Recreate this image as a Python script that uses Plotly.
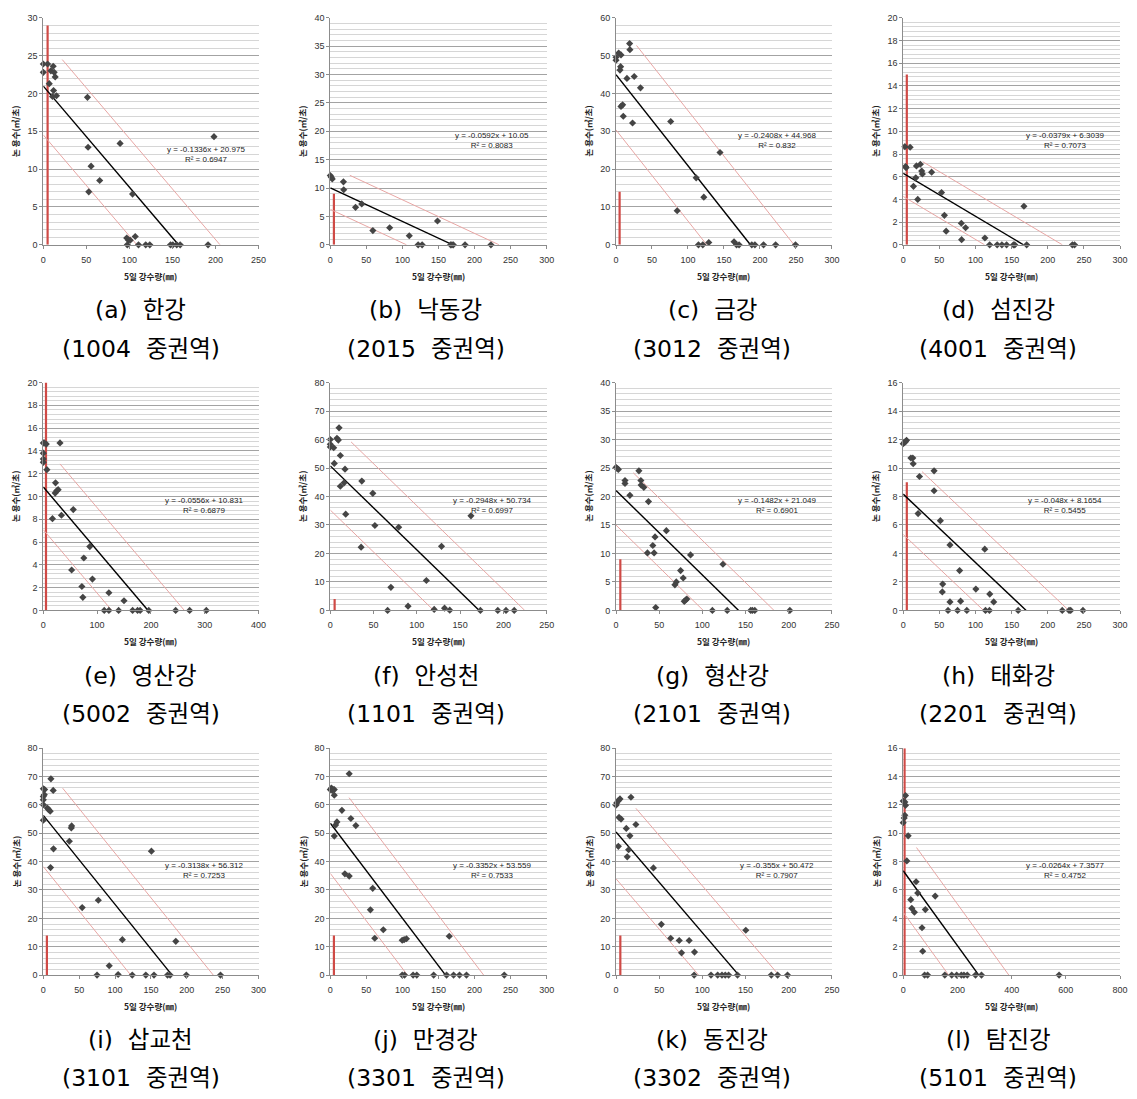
import plotly.graph_objects as go

# ---------------- data ----------------
labels = ["(a)  한강", "(b)  낙동강", "(c)  금강", "(d)  섬진강",
          "(e)  영산강", "(f)  안성천", "(g)  형산강", "(h)  태화강",
          "(i)  삽교천", "(j)  만경강", "(k)  동진강", "(l)  탐진강"]
codes = ["(1004  중권역)", "(2015  중권역)", "(3012  중권역)", "(4001  중권역)",
         "(5002  중권역)", "(1101  중권역)", "(2101  중권역)", "(2201  중권역)",
         "(3101  중권역)", "(3301  중권역)", "(3302  중권역)", "(5101  중권역)"]

a_x = [0, 0, 5, 6.9, 8.8, 11.5, 12.6, 13.8, 11.9, 10.7, 15.3, 51.3, 52, 55.5, 52.8, 65.5, 89.2, 103.7, 96.9, 98.8, 101, 106.8, 97.6, 110.6, 119, 123.7, 147.8, 150.5, 155, 159, 191.4, 198.3]
a_y = [23.9, 22.8, 23.9, 21.3, 23.0, 23.6, 22.8, 22.2, 20.4, 19.6, 19.7, 19.5, 12.9, 10.4, 7.0, 8.5, 13.4, 6.7, 0.9, 0.65, 0.6, 1.1, 0, 0, 0, 0, 0, 0, 0, 0, 0, 14.3]
b_x = [0, 1.4, 2.7, 18.2, 18.6, 35, 43.6, 59, 82.3, 109.5, 121.8, 127.3, 148.6, 166.8, 168.6, 170.5, 186.8, 222.7]
b_y = [12.2, 11.9, 11.6, 11.1, 9.7, 6.6, 7.2, 2.5, 3.0, 1.6, 0, 0, 4.2, 0, 0, 0, 0, 0]
c_x = [0, 0, 3.7, 6.9, 6.4, 5.5, 18.9, 19.3, 15.2, 25.3, 34, 6.9, 9.2, 10.1, 23, 76, 85, 111.4, 122, 114.6, 120.6, 128.9, 144.5, 164, 167.5, 171, 188.7, 193, 205, 221.8, 249.4]
c_y = [49.6, 48.8, 50.7, 50.2, 47.1, 46.2, 53.2, 51.6, 44.0, 44.5, 41.5, 36.6, 37.0, 34.0, 32.2, 32.6, 9.0, 17.7, 12.6, 0, 0, 0.6, 24.4, 0.8, 0, 0, 0, 0, 0, 0, 0]
d_x = [2.3, 9.6, 3.2, 4.0, 18.3, 23.7, 25.6, 26.5, 39.3, 17.4, 14.2, 20.1, 53, 57, 59.4, 80.4, 86.3, 80.8, 113, 119.6, 130, 136.5, 143, 152.5, 154.3, 170.8, 167, 234, 237]
d_y = [8.65, 8.6, 6.9, 6.8, 6.95, 7.1, 6.5, 6.25, 6.4, 5.9, 5.15, 4.0, 4.6, 2.6, 1.2, 1.9, 1.5, 0.45, 0.6, 0, 0, 0, 0, 0, 0, 0, 3.4, 0, 0]
e_x = [0, 2, 5.5, 0, 0, 0, 6.7, 31, 22.7, 22, 25, 27.6, 17, 33.7, 55.7, 86.4, 75.3, 52.7, 91.3, 71.7, 73.5, 121.9, 150, 113.3, 121.9, 140, 166, 175.2, 180, 196, 246, 272, 303]
e_y = [14.7, 14.7, 14.6, 13.8, 13.3, 13.0, 12.35, 14.7, 11.2, 10.3, 10.5, 10.6, 8.05, 8.35, 8.85, 5.6, 4.6, 3.55, 2.75, 2.1, 1.15, 1.55, 0.85, 0, 0, 0, 0, 0, 0, 0, 0, 0, 0]
f_x = [0, 0, 0, 3.9, 7.7, 9.3, 10.1, 11.6, 4.6, 17, 11.6, 15.9, 17.8, 36.4, 49.1, 35.6, 51.5, 79, 70, 66.2, 89.8, 111, 128.5, 162.5, 120, 132, 138, 173.4, 193.5, 203, 212.5]
f_y = [60.0, 58.3, 57.4, 57.1, 60.4, 59.8, 64.1, 54.4, 51.6, 49.6, 43.6, 44.8, 33.8, 45.4, 41.1, 22.2, 29.8, 29.2, 8.1, 0, 1.5, 10.5, 22.5, 33.2, 0.35, 0.8, 0.1, 0, 0, 0, 0]
g_x = [0, 1.5, 2.7, 10.4, 10.4, 26.5, 28.8, 29.1, 32.2, 16.1, 37.6, 58.3, 45.2, 42.6, 36.4, 44.1, 86.3, 74.8, 77.8, 69.8, 68.2, 123.8, 79, 82, 80.5, 46, 111.6, 128.8, 156, 158, 160.7, 201.3]
g_y = [25.1, 24.9, 24.75, 22.8, 22.3, 24.5, 22.8, 22.0, 21.6, 20.2, 19.1, 14.0, 12.9, 11.4, 10.1, 10.1, 9.75, 7.0, 5.7, 5.0, 4.5, 8.1, 1.6, 2.0, 1.8, 0.5, 0, 0, 0, 0, 0, 0]
h_x = [0, 1.8, 3.2, 4.6, 10.6, 13.3, 13.8, 42.7, 22.5, 42.7, 20.6, 51.4, 64.7, 112.8, 78, 54.6, 54.1, 100.5, 119.7, 64.7, 79.4, 125.2, 62, 75.2, 88, 113.8, 119.3, 159, 220, 229.4, 231.7, 248.6]
h_y = [11.7, 11.8, 11.85, 11.95, 10.7, 10.7, 10.3, 9.8, 9.4, 8.4, 6.8, 6.3, 4.6, 4.3, 2.8, 1.85, 1.3, 1.5, 1.15, 0.6, 0.65, 0.6, 0, 0, 0, 0, 0, 0, 0, 0, 0, 0]
i_x = [0, 1.8, 1.4, 0, 0, 0, 0, 10.6, 13.8, 5.5, 7.3, 9.6, 39.5, 39, 36.3, 14.2, 10.1, 54.2, 76.7, 110.2, 184.7, 150.7, 91.9, 74.9, 104.3, 124, 142.9, 154.3, 173.2, 176.8, 199.4, 247]
i_y = [65.7, 65.4, 63.6, 63.0, 61.8, 60.1, 54.6, 69.2, 65.1, 58.9, 58.4, 57.8, 52.6, 51.9, 47.2, 44.5, 37.9, 23.8, 26.4, 12.5, 11.9, 43.7, 3.3, 0, 0.2, 0, 0, 0, 0, 0, 0, 0]
j_x = [0, 1.4, 3.2, 5.5, 2.8, 5.5, 26.2, 16.1, 28.5, 35.4, 9.2, 7.3, 5.5, 20.2, 26.2, 58.8, 55.6, 73.5, 61.6, 99.7, 102.4, 105.6, 164.9, 99.7, 102.9, 114.8, 119.9, 143.3, 161.2, 170.9, 179.1, 188.8, 241.2]
j_y = [65.4, 65.9, 65.6, 65.4, 65.1, 63.4, 71.0, 58.1, 55.2, 52.7, 54.0, 52.9, 49.0, 35.7, 34.9, 30.6, 23.0, 16.0, 13.0, 12.3, 12.5, 12.8, 13.7, 0, 0, 0, 0, 0, 0, 0, 0, 0, 0]
k_x = [0, 0.8, 2.7, 4.6, 17.3, 3.5, 5.8, 23, 11.9, 16.1, 2.7, 14.6, 13, 43.3, 52.5, 63.3, 73.2, 84.7, 75.9, 90.9, 150.3, 90.5, 110, 117.7, 122.7, 126.5, 130.4, 140.7, 179.8, 187.1, 198.6]
k_y = [59.9, 60.7, 61.5, 62.1, 62.7, 55.6, 55.0, 53.1, 51.7, 49.1, 45.4, 44.2, 41.7, 37.8, 17.9, 13.0, 12.2, 12.2, 7.85, 8.1, 15.8, 0, 0, 0, 0, 0, 0, 0, 0, 0, 0]
l_x = [0, 6, 8.5, 8.5, 6, 3.7, 0, 18.3, 13.4, 47.5, 53.6, 118, 28, 31.7, 41.4, 81.6, 69.4, 71.9, 79, 90, 153.5, 179, 197.3, 214.4, 224, 236.3, 266.7, 288.7, 575]
l_y = [12.27, 12.2, 12.66, 11.97, 11.27, 11.08, 10.75, 9.82, 8.05, 6.58, 5.78, 5.57, 5.32, 4.71, 4.43, 4.62, 3.34, 1.68, 0, 0, 0, 0, 0, 0, 0, 0, 0, 0, 0]

xs = [a_x, b_x, c_x, d_x, e_x, f_x, g_x, h_x, i_x, j_x, k_x, l_x]
ys = [a_y, b_y, c_y, d_y, e_y, f_y, g_y, h_y, i_y, j_y, k_y, l_y]

slopes = [-0.1336, -0.0592, -0.2408, -0.0379, -0.0556, -0.2948, -0.1482, -0.048, -0.3138, -0.3352, -0.355, -0.0264]
intercepts = [20.975, 10.05, 44.968, 6.3039, 10.831, 50.734, 21.049, 8.1654, 56.312, 53.559, 50.472, 7.3577]
r2 = [0.6947, 0.8083, 0.832, 0.7073, 0.6879, 0.6997, 0.6901, 0.5455, 0.7253, 0.7533, 0.7907, 0.4752]
band = [6.45, 3.8, 14.6, 2.04, 3.75, 15.5, 6.07, 2.83, 18.05, 17.7, 16.5, 2.93]
band_start = [22, 27, 28.5, 27, 31, 24, 20, 26, 27, 26, 23, 49]
red_x = 5
red_top = [29, 9, 14, 15, 20, 4, 9, 9, 14, 14, 14, 16]

x_max = [250, 300, 300, 300, 400, 250, 250, 300, 300, 300, 250, 800]
x_step = [50, 50, 50, 50, 100, 50, 50, 50, 50, 50, 50, 200]
y_max = [30, 40, 60, 20, 20, 80, 40, 16, 80, 80, 80, 16]
y_step = [5, 5, 10, 2, 2, 10, 5, 2, 10, 10, 10, 2]

x_title = "5일 강수량(㎜)"
y_title = "논 용수(㎥/초)"

# ---------------- layout (pixels) ----------------
W, H = 1137, 1099
col_px = [(40.7, 258), (330.5, 549), (619, 837), (909, 1128)]
row_px = [(13, 242), (381, 611), (750, 979)]
cap_x = [139, 427, 716, 1005]
cap_y = [(308, 347), (677, 716), (1044, 1083)]
eq_pos = [(0.757, 0.40)] + [(0.745, 0.46)] * 11

FONT = "Noto Sans CJK KR, Liberation Sans, Arial, sans-serif"
CAPFONT = "DejaVu Sans, Noto Sans CJK KR, sans-serif"
TICKFONT = "Liberation Sans, Arial, sans-serif"

fig = go.Figure()
layout = dict(width=W, height=H, margin=dict(l=0, r=0, t=0, b=0),
              paper_bgcolor="white", plot_bgcolor="white", showlegend=False)
annotations = []

for i in range(12):
    n = i + 1
    r, c = divmod(i, 4)
    sx = "" if n == 1 else str(n)
    xa, ya = "x" + sx, "y" + sx
    x0p, x1p = col_px[c]
    y0p, y1p = row_px[r]

    m, b = slopes[i], intercepts[i]
    x_int = -b / m
    up_b = b + band[i]
    lo_b = b - band[i]

    # red vertical line
    fig.add_trace(go.Scatter(x=[red_x, red_x], y=[0, red_top[i]], mode="lines",
                             line=dict(color="#cf4a46", width=2.2),
                             xaxis=xa, yaxis=ya, hoverinfo="skip"))
    # band lines
    fig.add_trace(go.Scatter(x=[band_start[i], -up_b / m], y=[up_b + m * band_start[i], 0],
                             mode="lines", line=dict(color="#e8a6a4", width=1),
                             xaxis=xa, yaxis=ya, hoverinfo="skip"))
    fig.add_trace(go.Scatter(x=[0, -lo_b / m], y=[lo_b, 0],
                             mode="lines", line=dict(color="#e8a6a4", width=1),
                             xaxis=xa, yaxis=ya, hoverinfo="skip"))
    # regression line
    fig.add_trace(go.Scatter(x=[0, x_int], y=[b, 0], mode="lines",
                             line=dict(color="black", width=1.4),
                             xaxis=xa, yaxis=ya, hoverinfo="skip"))
    # points
    fig.add_trace(go.Scatter(x=xs[i], y=ys[i], mode="markers",
                             marker=dict(symbol="diamond", size=5.5, color="#454545"),
                             cliponaxis=False, xaxis=xa, yaxis=ya))

    layout["xaxis" + sx] = dict(
        domain=[x0p / W, x1p / W], anchor=ya, range=[0, x_max[i]], dtick=x_step[i],
        tick0=0, showgrid=False, zeroline=False, showline=True, linecolor="#8c8c8c",
        linewidth=1, ticks="outside", ticklen=3, tickcolor="#8c8c8c",
        tickfont=dict(size=9, color="#333333", family=TICKFONT), ticklabelstandoff=3)
    layout["yaxis" + sx] = dict(
        domain=[1 - y1p / H, 1 - y0p / H], anchor=xa, range=[0, y_max[i]], dtick=y_step[i],
        tick0=0, showgrid=True, gridcolor="#a3a3a3", gridwidth=1, zeroline=False,
        showline=True, linecolor="#8c8c8c", linewidth=1, ticks="outside", ticklen=3,
        tickcolor="#8c8c8c", tickfont=dict(size=9, color="#333333", family=TICKFONT),
        minor=dict(dtick=y_step[i] / 5, showgrid=True, gridcolor="#d6d6d6", gridwidth=1))

    # equation
    ex, ey = eq_pos[i]
    annotations.append(dict(
        text=f"y = {m}x + {b}<br>R² = {r2[i]}", xref=xa + " domain", yref=ya + " domain",
        x=ex, y=ey, xanchor="center", yanchor="middle", showarrow=False, align="center",
        font=dict(size=8, color="#222222", family=TICKFONT)))
    # axis titles
    annotations.append(dict(
        text=f"<b>{x_title}</b>", xref="paper", yref="paper",
        x=(x0p + x1p) / 2 / W, y=1 - (y1p + 31) / H, xanchor="center", yanchor="middle",
        showarrow=False, font=dict(size=8.5, color="#222222", family=FONT)))
    annotations.append(dict(
        text=f"<b>{y_title}</b>", xref="paper", yref="paper", textangle=-90,
        x=(x0p - 28) / W, y=1 - (y0p + y1p) / 2 / H, xanchor="center", yanchor="middle",
        showarrow=False, font=dict(size=8.5, color="#222222", family=FONT)))
    # captions
    cy1, cy2 = cap_y[r]
    annotations.append(dict(
        text=labels[i].replace("  ", "\u00a0 "), xref="paper", yref="paper",
        x=cap_x[c] / W, y=1 - cy1 / H, xanchor="center", yanchor="middle",
        showarrow=False, font=dict(size=23.5, color="black", family=CAPFONT)))
    annotations.append(dict(
        text=codes[i].replace("  ", "\u00a0 "), xref="paper", yref="paper",
        x=cap_x[c] / W, y=1 - cy2 / H, xanchor="center", yanchor="middle",
        showarrow=False, font=dict(size=23.5, color="black", family=CAPFONT)))

layout["annotations"] = annotations
fig.update_layout(**layout)
fig.write_html("out.html", config={"displayModeBar": False})
